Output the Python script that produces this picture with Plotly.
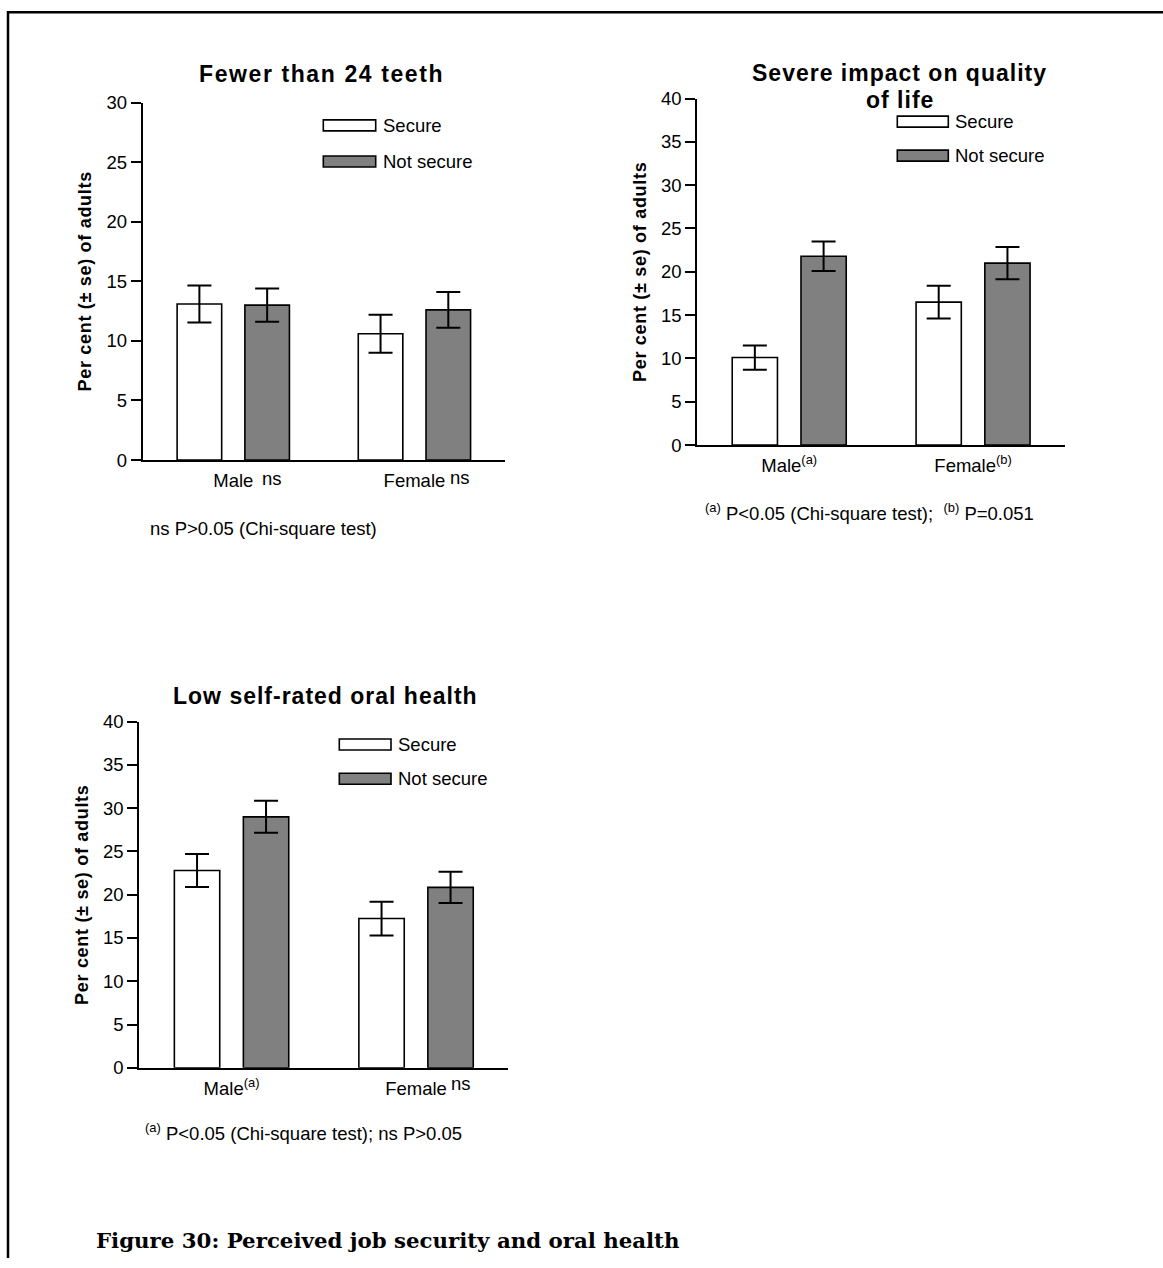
import plotly.graph_objects as go

# ---------------- data ----------------
categories = ["Male", "Female"]

teeth_secure = [13.1, 10.6]
teeth_secure_se = [1.55, 1.6]
teeth_notsecure = [13.0, 12.6]
teeth_notsecure_se = [1.4, 1.5]

qol_secure = [10.1, 16.5]
qol_secure_se = [1.4, 1.9]
qol_notsecure = [21.8, 21.0]
qol_notsecure_se = [1.7, 1.85]

srh_secure = [22.8, 17.25]
srh_secure_se = [1.9, 1.95]
srh_notsecure = [29.0, 20.85]
srh_notsecure_se = [1.85, 1.8]

ticks_teeth = ["Male", "Female"]
ticks_qol = ["Male<sup>(a)</sup>", "Female<sup>(b)</sup>"]
ticks_srh = ["Male<sup>(a)</sup>", "Female"]

series_names = ["Secure", "Not secure"]

# ---------------- layout helpers ----------------
W, H = 1163, 1268
FONT = "Liberation Sans, Arial, sans-serif"
SECURE_COLOR = "#ffffff"
NOTSECURE_COLOR = "#808080"

# the page is photographed with a small vertical offset/compression; compensate
Y_OFF, Y_SCALE = 10.1, 0.9838


def px(x):
    return x / W


def py(y):
    return 1 - ((y - Y_OFF) / Y_SCALE) / H


fig = go.Figure()

panels = [
    ("", teeth_secure, teeth_secure_se, teeth_notsecure, teeth_notsecure_se, ticks_teeth, 30, (142.7, 505), (459.3, 101.7)),
    ("2", qol_secure, qol_secure_se, qol_notsecure, qol_notsecure_se, ticks_qol, 40, (697.3, 1065), (444.3, 97.7)),
    ("3", srh_secure, srh_secure_se, srh_notsecure, srh_notsecure_se, ticks_srh, 40, (139.3, 508.3), (1067.3, 721)),
]

BAR_W = 0.246
for suf, s, sse, n, nse, tt, ymax, xd, yd in panels:
    xa = "x" + suf
    ya = "y" + suf
    for vals, errs, col, off, name in [
        (s, sse, SECURE_COLOR, -0.31, series_names[0]),
        (n, nse, NOTSECURE_COLOR, 0.064, series_names[1]),
    ]:
        fig.add_trace(go.Bar(
            x=categories, y=vals, name=name, xaxis=xa, yaxis=ya,
            width=BAR_W, offset=off,
            marker=dict(color=col, line=dict(color="black", width=1.6)),
            error_y=dict(type="data", array=errs, visible=True,
                         color="black", thickness=2, width=12),
            showlegend=False,
        ))
    xkey = "xaxis" + suf
    ykey = "yaxis" + suf
    fig.layout[xkey] = dict(
        domain=[px(xd[0]), px(xd[1])], anchor=ya,
        type="category", categoryorder="array", categoryarray=categories,
        range=[-0.5, 1.5], tickmode="array", tickvals=categories, ticktext=tt,
        showline=True, linecolor="black", linewidth=2, ticks="",
        ticklabelstandoff=3,
        showgrid=False, zeroline=False,
        tickfont=dict(family=FONT, size=18.5, color="black"),
        fixedrange=True,
    )
    fig.layout[ykey] = dict(
        domain=[py(yd[0]), py(yd[1])], anchor=xa,
        range=[0, ymax], dtick=5, tick0=0,
        showline=True, linecolor="black", linewidth=2,
        ticks="outside", ticklen=10, tickwidth=1.5, tickcolor="black",
        showgrid=False, zeroline=False,
        tickfont=dict(family=FONT, size=18.5, color="black"),
        title=dict(text='<span style="letter-spacing:0.7px">Per cent (± se) of adults</span>',
                   font=dict(family=FONT, size=18, color="black", weight="bold"),
                   standoff=10),
        fixedrange=True,
    )

annotations = []
shapes = []


def add_text(text, x, y, size=18.5, bold=False, xanchor="left", family=FONT, spacing=None):
    if spacing is not None:
        text = f'<span style="letter-spacing:{spacing}px">{text}</span>'
    if xanchor == "left":
        x -= 2
    annotations.append(dict(
        text=text, x=px(x), y=py(y), xref="paper", yref="paper",
        xanchor=xanchor, yanchor="middle", showarrow=False,
        font=dict(family=family, size=size, color="black",
                  weight="bold" if bold else "normal"),
    ))


# panel titles
add_text("Fewer than 24 teeth", 321.7, 72.7, size=23, bold=True, xanchor="center", spacing=1.6)
add_text("Severe impact on quality", 899.5, 71.7, size=23, bold=True, xanchor="center", spacing=1)
add_text("of life", 899.5, 99.3, size=23, bold=True, xanchor="center", spacing=1)
add_text("Low self-rated oral health", 325.8, 695, size=23, bold=True, xanchor="center", spacing=1)

# legends (swatches + labels)
legend_specs = [
    (323.3, 375.7, 124.5, 160.7, 383.3),
    (897.3, 948.3, 120.8, 154.8, 955.0),
    (339.3, 391.0, 743.8, 778.2, 398.3),
]
for x0, x1, ys, yn, xt in legend_specs:
    for yc, col, name in [(ys, SECURE_COLOR, series_names[0]), (yn, NOTSECURE_COLOR, series_names[1])]:
        shapes.append(dict(type="rect", xref="paper", yref="paper",
                           x0=px(x0), x1=px(x1), y0=py(yc - 5.5), y1=py(yc + 5.5),
                           fillcolor=col, line=dict(color="black", width=1.6)))
        add_text(name, xt, yc)

# significance markers next to category labels
add_text("ns", 261.7, 477.4)
add_text("ns", 450.0, 476.3)
add_text("ns", 450.7, 1083.0)

# footnotes
add_text("ns P&gt;0.05 (Chi-square test)", 150, 528)
add_text("<sup>(a)</sup> P&lt;0.05 (Chi-square test);  <sup>(b)</sup> P=0.051", 705, 511.7)
add_text("<sup>(a)</sup> P&lt;0.05 (Chi-square test); ns P&gt;0.05", 145, 1132)

# caption
add_text("Figure 30: Perceived job security and oral health", 96, 1240,
         size=21.3, bold=True, family="DejaVu Serif, Liberation Serif, serif")

# border (top and left)
TOP = 1.25 / H
shapes.append(dict(type="line", xref="paper", yref="paper",
                   x0=px(8), x1=1, y0=1 - TOP, y1=1 - TOP, line=dict(color="black", width=2.5)))
shapes.append(dict(type="line", xref="paper", yref="paper",
                   x0=px(8), x1=px(8), y0=1, y1=0, line=dict(color="black", width=2.5)))

fig.update_layout(
    width=W, height=H,
    margin=dict(l=0, r=0, t=0, b=0),
    paper_bgcolor="white", plot_bgcolor="white",
    barmode="overlay",
    annotations=annotations, shapes=shapes,
    font=dict(family=FONT, color="black"),
    showlegend=False,
)

post = """
var gd = document.getElementById('{plot_id}');
document.documentElement.style.margin = '0';
document.documentElement.style.overflow = 'hidden';
document.body.style.margin = '0';
document.body.style.overflow = 'hidden';
gd.style.position = 'absolute';
gd.style.left = '0px';
gd.style.top = '0px';
"""

fig.write_html("out.html", config={"displayModeBar": False}, post_script=post)
